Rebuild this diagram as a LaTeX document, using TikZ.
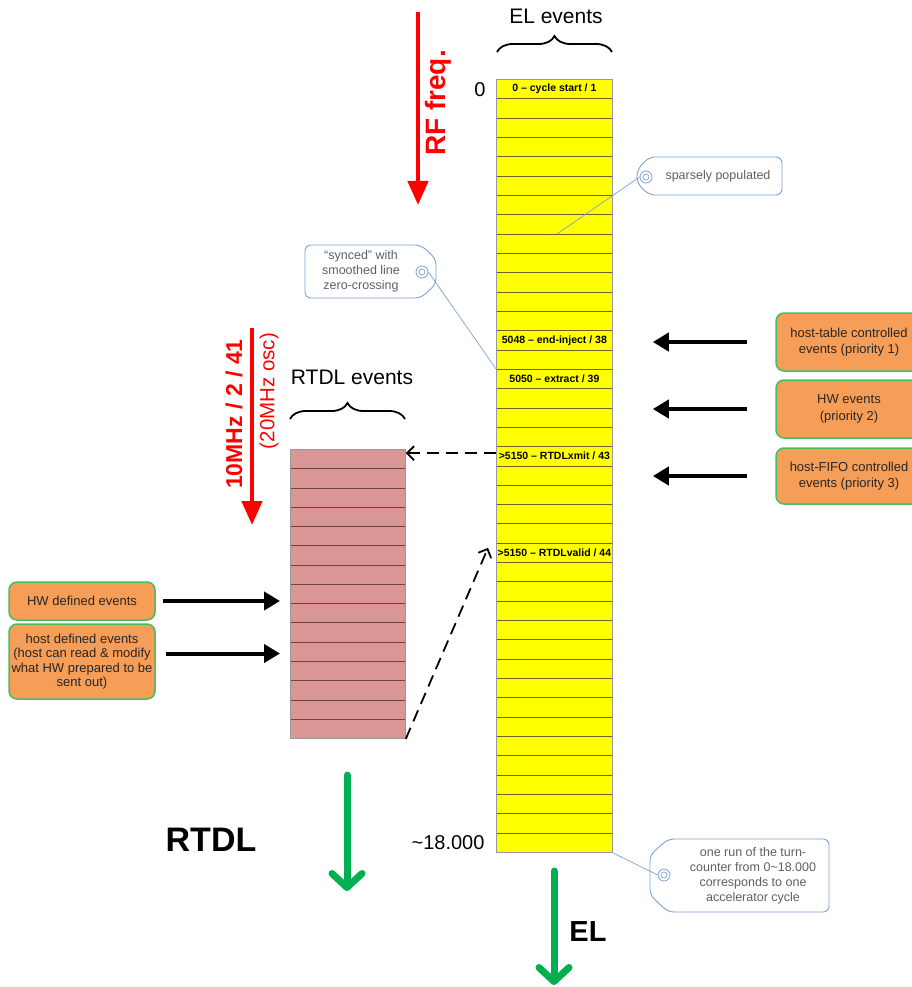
\documentclass[tikz,border=0pt]{standalone}
\usepackage{fontspec}
\setmainfont{Liberation Sans}
\usetikzlibrary{arrows.meta,decorations.pathreplacing,calc}
\definecolor{elyellow}{RGB}{255,255,0}
\definecolor{elline}{RGB}{105,100,40}
\definecolor{rtfill}{RGB}{217,150,148}
\definecolor{rtline}{RGB}{110,70,70}
\definecolor{boxorange}{RGB}{246,158,88}
\definecolor{boxedge}{RGB}{70,190,95}
\definecolor{tagline}{RGB}{125,160,215}
\definecolor{taggray}{RGB}{95,95,95}
\definecolor{outgreen}{RGB}{0,176,80}
\definecolor{freqred}{RGB}{255,0,0}
\tikzset{
  elrow/.style={draw=elline, fill=elyellow, line width=0.8pt, minimum width=116,
    minimum height=19.325, inner sep=0, anchor=north west},
  rtrow/.style={draw=rtline, fill=rtfill, line width=0.8pt, minimum width=115,
    minimum height=19.27, inner sep=0, anchor=north west},
  eltext/.style={font=\fontsize{10.5}{12}\selectfont\bfseries, inner sep=0},
  srcbox/.style={draw=boxedge, fill=boxorange, line width=1.5pt, rounded corners=8,
    minimum width=146, inner sep=0, align=center, text=black!85,
    font=\fontsize{13}{16.5}\selectfont},
  tagshape/.style={draw=tagline, line width=0.9pt, rounded corners=6},
  taghole/.style={circle, draw=tagline, line width=0.8pt, minimum size=12, inner sep=0},
  tagtext/.style={text=taggray, align=center, font=\fontsize{12.5}{15}\selectfont},
  tagwire/.style={draw=tagline, line width=0.7pt},
  feed/.style={line width=4pt, -{Triangle[length=16pt,width=18pt]}},
  dashlink/.style={line width=1.8pt, dash pattern=on 12pt off 7pt,
    -{Straight Barb[length=7pt,width=14pt]}},
  freqarrow/.style={freqred, line width=4.5pt, -{Triangle[length=24pt,width=20pt]}},
  outarrow/.style={outgreen, line width=7pt, line cap=round,
    -{Straight Barb[length=14pt,width=30pt,round]}},
  colbrace/.style={line width=1.8pt, decorate, decoration={brace, amplitude=16pt}},
  heading/.style={font=\fontsize{21}{24}\selectfont},
}
\begin{document}
\begin{tikzpicture}[x=1pt, y=-1pt]
\clip (0,0) rectangle (912,987);

% ---- EL event table (40 slots) ----
\foreach \i in {1,...,40} {
  \node[elrow] (el-\i) at (496, {79+(\i-1)*19.325}) {};
}
\draw[gray!80, line width=0.8pt] (el-1.north west) rectangle (el-40.south east);
\node[eltext] (ev-start)   at (el-1)  {0 – cycle start / 1};
\node[eltext] (ev-inject)  at (el-14) {5048 – end-inject / 38};
\node[eltext] (ev-extract) at (el-16) {5050 – extract / 39};
\node[eltext] (ev-xmit)    at (el-20) {>5150 – RTDLxmit / 43};
\node[eltext] (ev-valid)   at (el-25) {>5150 – RTDLvalid / 44};

\node[font=\fontsize{20}{24}\selectfont, anchor=east] (zero) at (489,90) {0};
\node[font=\fontsize{20}{24}\selectfont, anchor=east] (last) at (488,843) {\char`\~18.000};

\draw[colbrace] (497,52) -- (612,52);
\node[heading] (el-head) at (556,16) {EL events};

% ---- RTDL event table (15 slots) ----
\foreach \i in {1,...,15} {
  \node[rtrow] (rt-\i) at (290, {449+(\i-1)*19.27}) {};
}
\draw[gray!80, line width=0.8pt] (rt-1.north west) rectangle (rt-15.south east);
\draw[colbrace] (290,419) -- (405,419);
\node[heading] (rt-head) at (352,377) {RTDL events};

% ---- clock arrows ----
\coordinate (rf-top) at (418,12);
\coordinate (rf-tip) at (418,205);
\draw[freqarrow] (rf-top) -- (rf-tip);
\node[freqred, rotate=90, font=\fontsize{28}{30}\selectfont\bfseries] (rf-label) at (438,103) {RF freq.};

\coordinate (ck-top) at (252,328);
\coordinate (ck-tip) at (252,525);
\draw[freqarrow] (ck-top) -- (ck-tip);
\node[freqred, rotate=90, font=\fontsize{23}{26}\selectfont\bfseries] (ck-label) at (234,414) {10MHz / 2 / 41};
\node[freqred, rotate=90, font=\fontsize{20.5}{24}\selectfont] (osc-label) at (269,391) {(20MHz osc)};

% ---- EL event sources ----
\node[srcbox, minimum height=58] (ht) at (849,342) {host-table controlled\\events (priority 1)};
\node[srcbox, minimum height=58] (hw) at (849,409) {HW events\\(priority 2)};
\node[srcbox, minimum height=56] (hf) at (849,476) {host-FIFO controlled\\events (priority 3)};
\draw[feed] ($(ht.west)+(-28,0)$) -- ($(ht.west -| el-14.east)+(40,0)$);
\draw[feed] ($(hw.west)+(-28,0)$) -- ($(hw.west -| el-17.east)+(40,0)$);
\draw[feed] ($(hf.west)+(-28,0)$) -- ($(hf.west -| el-21.east)+(40,0)$);

% ---- RTDL event sources ----
\node[srcbox, minimum height=38] (hd) at (82,601) {HW defined events};
\node[srcbox, minimum height=75, font=\fontsize{13}{14.5}\selectfont] (hh) at (82,661.5)
  {host defined events\\(host can read \& modify\\what HW prepared to be\\sent out)};
\draw[feed] ($(hd.east)+(7,0)$) -- ($(hd.east -| rt-1.west)+(-10,0)$);
\draw[feed] ($(hh.east)+(10,-8)$) -- ($(hh.east -| rt-1.west)+(-10,-8)$);

% ---- links between the tables ----
\coordinate (xmit-in) at ($(el-20.north west)+(0,7)$);
\draw[dashlink] (xmit-in) -- (xmit-in -| rt-1.east);
\coordinate (valid-in) at ($(el-25.west)+(-8,-5)$);
\draw[dashlink] (rt-15.south east) -- (valid-in);

% ---- outputs ----
\coordinate (rtdl-out-a) at (347,775);
\coordinate (rtdl-out-b) at (347,891);
\draw[outarrow] (rtdl-out-a) -- (rtdl-out-b);
\node[font=\fontsize{34}{36}\selectfont\bfseries] (rtdl-label) at (211,840) {RTDL};

\coordinate (el-out-a) at (554,871);
\coordinate (el-out-b) at (554,985);
\draw[outarrow] (el-out-a) -- (el-out-b);
\node[font=\fontsize{29}{32}\selectfont\bfseries] (el-label) at (588,932) {EL};

% ---- callout tags ----
% sparsely populated
\draw[tagshape] (649,157) -- (782,157) -- (782,195) -- (649,195) -- (637,183) -- (637,170) -- cycle;
\node[taghole] (hole-a) at (646,177) {};
\node[circle, draw=tagline, line width=0.7pt, minimum size=6, inner sep=0] (hole-a-in) at (646,177) {};
\node[tagtext] (tag-a) at (718,176) {sparsely populated};
\coordinate (wire-a) at (557,234);
\draw[tagwire] (hole-a.west) -- (wire-a);

% synced
\draw[tagshape] (305,245) -- (421,245) -- (436,259) -- (436,284) -- (421,298) -- (305,298) -- cycle;
\node[taghole] (hole-b) at (422,272) {};
\node[circle, draw=tagline, line width=0.7pt, minimum size=6, inner sep=0] (hole-b-in) at (422,272) {};
\node[tagtext] (tag-b) at (361,271) {“synced” with\\smoothed line\\zero-crossing};
\draw[tagwire] (hole-b.east) -- (el-16.north west);

% turn-counter cycle
\draw[tagshape] (668,839) -- (829,839) -- (829,912) -- (668,912) -- (650,895) -- (650,855) -- cycle;
\node[taghole] (hole-c) at (664,875) {};
\node[circle, draw=tagline, line width=0.7pt, minimum size=6, inner sep=0] (hole-c-in) at (664,875) {};
\node[tagtext] (tag-c) at (753,875.5) {one run of the turn-\\counter from 0\char`\~18.000\\corresponds to one\\accelerator cycle};
\draw[tagwire] (el-40.south east) -- (hole-c.west);
\end{tikzpicture}
\end{document}
